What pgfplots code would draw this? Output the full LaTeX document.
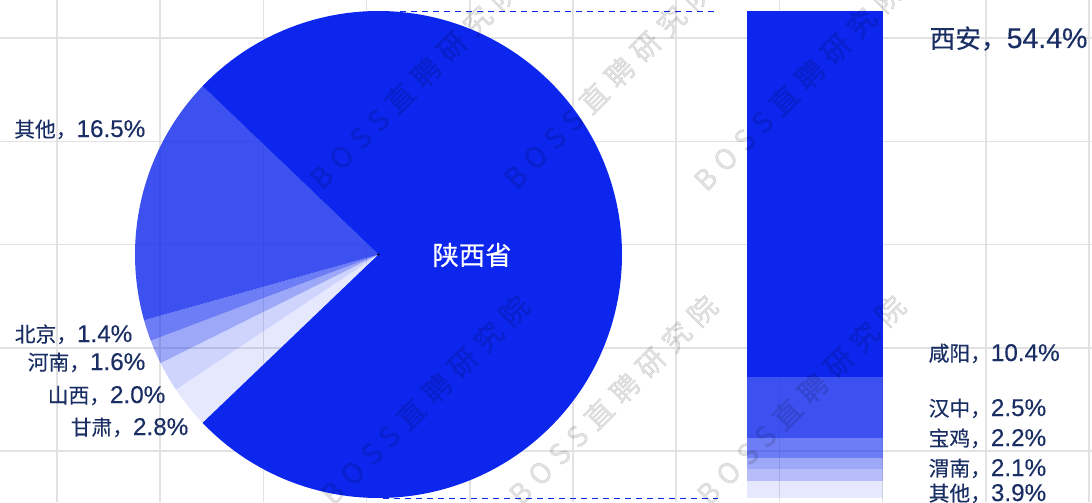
\documentclass[border=0pt]{standalone}
\usepackage{fontspec}
\setmainfont{Noto Sans CJK SC}
\newfontfamily\cjk[FakeBold=0.3]{Noto Sans CJK SC}
\newfontfamily\lat[FakeBold=0.3]{Liberation Sans}
\newfontfamily\wmfont[LetterSpace=30, FakeBold=1.5]{Noto Sans CJK SC}
\usepackage{pgfplots}
\pgfplotsset{compat=1.18}
\usepackage{pgfplotstable}

\definecolor{sxblue}{RGB}{12,38,238}
\definecolor{lblue}{RGB}{26,46,100}
\definecolor{gridgray}{RGB}{226,226,226}

% small / big labels: CJK part and number part
\newcommand\slab[2]{{\cjk\fontsize{5.9}{6}\selectfont #1，}{\lat\fontsize{6.9}{7}\selectfont #2\%}}
\newcommand\blab[2]{{\cjk\fontsize{7.3}{8}\selectfont #1，}{\lat\fontsize{8.1}{9}\selectfont #2\%}}
\tikzset{wm/.style={rotate=45, text=black, text opacity=0.11, inner sep=0pt,
    font=\wmfont\fontsize{8}{8}\selectfont},
    lab/.style={text=lblue, inner sep=0pt}}

% pie: share of each region (percent), cumulative start, fill opacity
\pgfplotstableread{
cx    cy    val   cum   op
378.5 254.5 16.5  0.0   0.8
378.5 254.5 1.4   16.5  0.6
378.5 254.5 1.6   17.9  0.4
378.5 254.5 2.0   19.5  0.2
378.5 254.5 2.8   21.5  0.1
378.5 254.5 75.7  24.3  1.0
}\piedata

\begin{document}
\begin{tikzpicture}
\begin{axis}[
    name=main,
    at={(0,0)}, anchor=south west,
    width=109.2mm, height=50.2mm,
    scale only axis,
    xmin=0, xmax=1092, ymin=0, ymax=502,
    y dir=reverse,
    axis line style={draw=none},
    tick style={draw=none},
    xtick={57,160.2,263.4,366.6,469.8,573,676.2,779.4,882.6,985.8,1089},
    ytick={38,141.3,244.6,347.9,451.2},
    xticklabels={}, yticklabels={},
    grid=major,
    major grid style={gridgray, line width=0.45pt},
    clip=false,
]

% pie slices, one wedge per row
\addplot[scatter, only marks, mark=*, mark size=0.01pt,
    visualization depends on={\thisrow{val} \as \pval},
    visualization depends on={\thisrow{cum} \as \pcum},
    visualization depends on={\thisrow{op} \as \pop},
    scatter/@pre marker code/.code={
        \pgfmathsetmacro\aA{136.26+3.6*\pcum}
        \pgfmathsetmacro\aB{\aA+3.6*\pval}
        \fill[sxblue, fill opacity=\pop, draw=none] (0,0) -- (\aA:24.35mm)
            arc[start angle=\aA, end angle=\aB, radius=24.35mm] -- cycle;
    },
    scatter/@post marker code/.code={},
] table[x=cx, y=cy] {\piedata};

% connector lines
\addplot[sxblue, line width=0.5pt, dash pattern=on 0.55mm off 0.55mm]
    coordinates {(400,11.5) (718,11.5)};
\addplot[sxblue, line width=0.5pt, dash pattern=on 0.55mm off 0.55mm]
    coordinates {(383,498.5) (718,498.5)};

% pie labels
\node[lab, anchor=base east] at (axis cs:146,137) {\slab{其他}{16.5}};
\node[lab, anchor=base east] at (axis cs:133,342) {\slab{北京}{1.4}};
\node[lab, anchor=base east] at (axis cs:146,370) {\slab{河南}{1.6}};
\node[lab, anchor=base east] at (axis cs:166,403) {\slab{山西}{2.0}};
\node[lab, anchor=base east] at (axis cs:189,435) {\slab{甘肃}{2.8}};

% bar labels
\node[lab, anchor=base west] at (axis cs:929,48) {\blab{西安}{54.4}};
\node[lab, anchor=base west] at (axis cs:928,361) {\slab{咸阳}{10.4}};
\node[lab, anchor=base west] at (axis cs:928,416) {\slab{汉中}{2.5}};
\node[lab, anchor=base west] at (axis cs:928,446) {\slab{宝鸡}{2.2}};
\node[lab, anchor=base west] at (axis cs:928,476) {\slab{渭南}{2.1}};
\node[lab, anchor=base west] at (axis cs:928,501) {\slab{其他}{3.9}};
\end{axis}

% stacked bar for 陕西省 cities (segment heights as drawn)
\begin{axis}[
    at={(74.7mm,0.4mm)}, anchor=south west,
    width=13.6mm, height=48.7mm,
    scale only axis,
    xmin=-0.5, xmax=0.5, ymin=0, ymax=75.5,
    y dir=reverse,
    ybar stacked, bar width=13.6mm,
    hide axis,
]
\addplot[fill=sxblue, draw=none] coordinates {(0,56.7)};
\addplot[fill=sxblue, fill opacity=0.8, draw=none] coordinates {(0,9.5)};
\addplot[fill=sxblue, fill opacity=0.6, draw=none] coordinates {(0,3.1)};
\addplot[fill=sxblue, fill opacity=0.4, draw=none] coordinates {(0,1.7)};
\addplot[fill=sxblue, fill opacity=0.3, draw=none] coordinates {(0,1.9)};
\addplot[fill=sxblue, fill opacity=0.1, draw=none] coordinates {(0,2.6)};
\end{axis}

% pie centre label and watermark on top
\begin{axis}[
    at={(0,0)}, anchor=south west,
    width=109.2mm, height=50.2mm,
    scale only axis,
    xmin=0, xmax=1092, ymin=0, ymax=502,
    y dir=reverse, hide axis, clip=false,
]
\addplot[draw=none] coordinates {(0,0) (1092,502)};
\node[anchor=center, text=white, inner sep=0pt, font=\cjk\fontsize{7.5}{8}\selectfont] at (axis cs:472,255) {陕西省};
\node[wm] at (axis cs:414,84) {BOSS直聘研究院};
\node[wm] at (axis cs:608,84) {BOSS直聘研究院};
\node[wm] at (axis cs:798,86) {BOSS直聘研究院};
\node[wm] at (axis cs:425,400) {BOSS直聘研究院};
\node[wm] at (axis cs:613,400) {BOSS直聘研究院};
\node[wm] at (axis cs:801,400) {BOSS直聘研究院};
\end{axis}

\pgfresetboundingbox
\path[use as bounding box] (main.south west) rectangle (main.north east);
\end{tikzpicture}
\end{document}
